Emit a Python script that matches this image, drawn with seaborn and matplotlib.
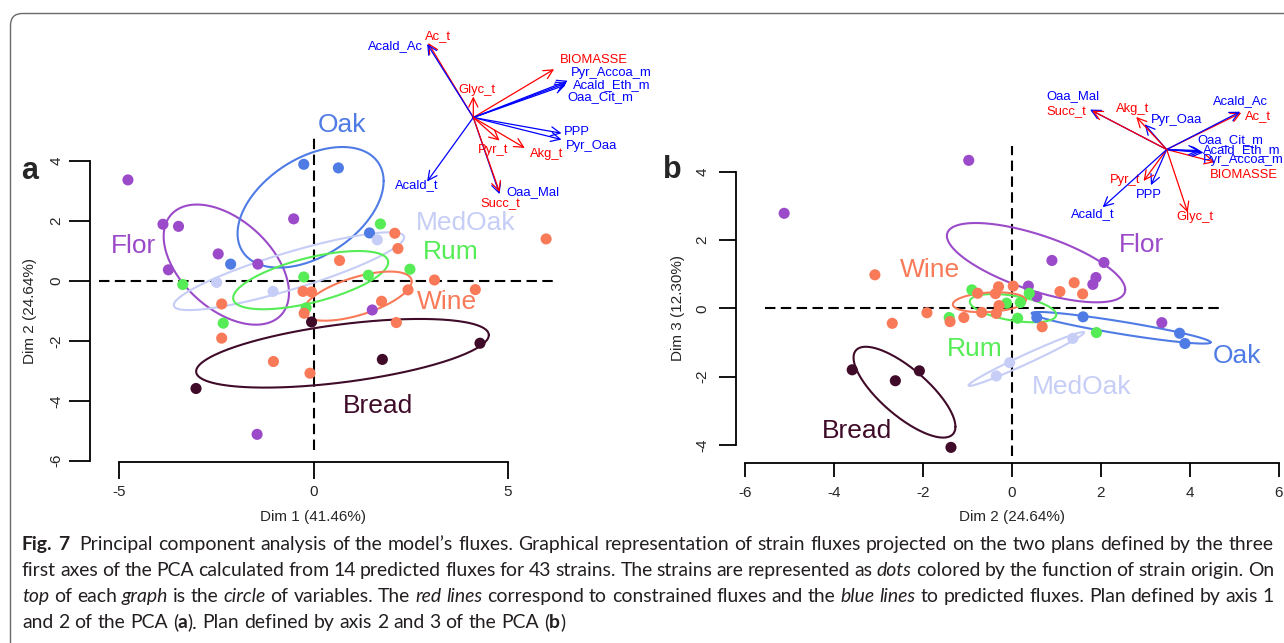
import numpy as np
import pandas as pd
import matplotlib
matplotlib.use("Agg")
import matplotlib.pyplot as plt
import seaborn as sns
from matplotlib.patches import FancyBboxPatch
from matplotlib.transforms import IdentityTransform
from matplotlib.font_manager import FontProperties

# ---------------- data ----------------
groups = (["Flor"] * 9 + ["Oak"] * 4 + ["MedOak"] * 3 + ["Rum"] * 7 +
          ["Wine"] * 16 + ["Bread"] * 4)
dim1 = [-4.77, -3.87, -3.47, -2.45, -1.43, -0.51, -3.73, -1.45, 1.51,
        -0.25, 0.64, 1.44, -2.13,
        1.64, -2.49, -1.04,
        1.72, 2.48, 1.41, -0.25, -3.36, -0.19, -2.32,
        2.09, 2.17, 0.67, 3.11, 4.16, 2.43, -0.27, -0.05, 1.75, -0.24, 2.13,
        -2.36, -2.36, -1.03, -0.09, 5.98,
        -0.05, 1.77, 4.28, -3.02]
dim2 = [3.37, 1.89, 1.82, 0.90, 0.56, 2.07, 0.37, -5.12, -0.97,
        3.89, 3.77, 1.60, 0.56,
        1.37, -0.05, -0.35,
        1.90, 0.39, 0.19, 0.13, -0.12, -0.90, -1.41,
        1.59, 1.08, 0.68, 0.03, -0.29, -0.30, -0.35, -0.37, -0.68, -1.08, -1.39,
        -0.77, -1.91, -2.69, -3.08, 1.40,
        -1.37, -2.62, -2.08, -3.59]
dim3 = [-0.42, 0.90, 0.70, 1.40, 0.34, 1.34, 0.65, 2.78, 4.33,
        -1.03, -0.73, -0.25, -0.27,
        -0.88, -1.59, -1.98,
        -0.71, 0.44, 0.17, -0.29, 0.15, 0.54, -0.27,
        0.42, 0.49, -0.54, 0.65, 0.08, 0.63, -0.15, 0.43, -0.12, -0.27, -0.39,
        0.44, -0.13, -0.44, 0.98, 0.75,
        -4.07, -2.12, -1.83, -1.80]

group_names = ["Flor", "Oak", "MedOak", "Rum", "Wine", "Bread"]

# variable loadings (correlations) on dims 1-3
var_names = ["Ac_t", "Acald_Ac", "BIOMASSE", "Pyr_Accoa_m", "Acald_Eth_m",
             "Oaa_Cit_m", "Glyc_t", "PPP", "Pyr_Oaa", "Pyr_t", "Akg_t",
             "Acald_t", "Oaa_Mal", "Succ_t"]
var_kind = ["constrained", "predicted", "constrained", "predicted", "predicted",
            "predicted", "constrained", "predicted", "predicted", "constrained",
            "constrained", "predicted", "predicted", "constrained"]
load1 = [-0.43, -0.44, 0.77, 0.90, 0.89, 0.88, 0.00, 0.84, 0.84, 0.25, 0.49,
         -0.44, 0.25, 0.25]
load2 = [0.71, 0.70, 0.46, 0.35, 0.33, 0.31, 0.20, -0.15, -0.21, -0.22, -0.29,
         -0.61, -0.73, -0.71]
load3 = [0.35, 0.36, -0.12, -0.03, -0.02, -0.01, -0.60, -0.34, 0.24, -0.30,
         0.31, -0.55, 0.38, 0.37]

x_label_a, y_label_a = "Dim 1 (41.46%)", "Dim 2 (24.64%)"
x_label_b, y_label_b = "Dim 2 (24.64%)", "Dim 3 (12.30%)"

caption_segments = [
    [("Fig. 7", "b"), ("  Principal component analysis of the model\u2019s fluxes. Graphical representation of strain fluxes projected on the two plans defined by the three", "r")],
    [("first axes of the PCA calculated from 14 predicted fluxes for 43 strains. The strains are represented as ", "r"), ("dots", "i"), (" colored by the function of strain origin. On", "r")],
    [("top", "i"), (" of each ", "r"), ("graph", "i"), (" is the ", "r"), ("circle", "i"), (" of variables. The ", "r"), ("red lines", "i"), (" correspond to constrained fluxes and the ", "r"), ("blue lines", "i"), (" to predicted fluxes. Plan defined by axis 1", "r")],
    [("and 2 of the PCA (", "r"), ("a", "b"), ("). Plan defined by axis 2 and 3 of the PCA (", "r"), ("b", "b"), (")", "r")],
]

# ---------------- styles / layout ----------------
palette = {"Flor": "#9b4bc9", "Oak": "#4f7be5", "MedOak": "#c6cdf6",
           "Rum": "#55ec55", "Wine": "#f97a58", "Bread": "#3f0b28"}
kind_color = {"constrained": "#ff0000", "predicted": "#0000ff"}

W, H = 1284, 643
sns.set_style("ticks")
plt.rcParams["font.family"] = ["Liberation Sans", "DejaVu Sans"]

fig = plt.figure(figsize=(W / 100, H / 100), dpi=100)

df = pd.DataFrame({"group": groups, "dim1": dim1, "dim2": dim2, "dim3": dim3})
vars_df = pd.DataFrame({"name": var_names, "kind": var_kind,
                        "d1": load1, "d2": load2, "d3": load3})


def px_axes(x0, sx, y0, sy, left, right, top, bottom):
    ax = fig.add_axes([left / W, 1 - bottom / H, (right - left) / W, (bottom - top) / H])
    ax.set_xlim((left - x0) / sx, (right - x0) / sx)
    ax.set_ylim((y0 - bottom) / sy, (y0 - top) / sy)
    ax.patch.set_alpha(0)
    return ax


def ellipse_curve(xs, ys, q=5.991):
    pts = np.column_stack([xs, ys])
    m = pts.mean(axis=0)
    C = np.cov(pts.T) / len(pts) * q
    L = np.linalg.cholesky(C)
    t = np.linspace(0, 2 * np.pi, 240)
    return m + (L @ np.vstack([np.cos(t), np.sin(t)])).T


def draw_panel(ax, xc, yc, xticks, yticks, xbounds, ybounds, hline, vline,
               label_pos, xlab, ylab, xlab_y, ylab_x, ylab_y, tl_y, tl_x, pad_x, pad_y):
    for g in group_names:
        sub = df[df.group == g]
        cur = ellipse_curve(sub[xc].values, sub[yc].values)
        ax.plot(cur[:, 0], cur[:, 1], color=palette[g], lw=1.5, zorder=2)
    sns.scatterplot(data=df, x=xc, y=yc, hue="group", palette=palette, s=64,
                    linewidth=0, legend=False, ax=ax, zorder=3)
    ax.plot(hline, [0, 0], color="black", lw=1.5, ls=(0, (5, 2.6)), zorder=1)
    ax.plot([0, 0], vline, color="black", lw=1.5, ls=(0, (5, 2.6)), zorder=1)
    for g, (lx, ly) in label_pos.items():
        ax.text(lx, ly, g, color=palette[g], fontsize=19, ha="center", va="center", zorder=4)
    ax.spines[["top", "right"]].set_visible(False)
    for s in ["left", "bottom"]:
        ax.spines[s].set_linewidth(1.3)
        ax.spines[s].set_color("black")
    ax.spines["left"].set_bounds(*ybounds)
    ax.spines["bottom"].set_bounds(*xbounds)
    ax.set_xticks(xticks)
    ax.set_yticks(yticks)
    ax.set_xticklabels([f"{v:g}" for v in xticks])
    ax.set_yticklabels([f"{v:g}" for v in yticks], rotation=90, va="center")
    ax.tick_params(axis="x", length=tl_x, width=1.3, labelsize=11, pad=pad_x, color="black")
    ax.tick_params(axis="y", length=tl_y, width=1.3, labelsize=11, pad=pad_y, color="black")
    ax.set_xlabel(xlab, fontsize=11, va="center")
    ax.set_ylabel(ylab, fontsize=11, va="center")
    ax.xaxis.set_label_coords(0, xlab_y, transform=ax.transData)
    ax.yaxis.set_label_coords(ylab_x, ylab_y, transform=ax.transData)
    ax.grid(False)


# panel a
ax_a = px_axes(313.5, 38.9, 280.9, 29.97, 90.5, 575, 105, 462.3)
draw_panel(ax_a, "dim1", "dim2", [-5, 0, 5], [-6, -4, -2, 0, 2, 4], (-5, 5), (-6, 4),
           [-5.51, 6.28], [-5.63, 4.87],
           {"Oak": (0.72, 5.21), "Flor": (-4.64, 1.17), "MedOak": (3.92, 1.93),
            "Rum": (3.53, 0.98), "Wine": (3.44, -0.72), "Bread": (1.65, -4.18)},
           x_label_a, y_label_a, -7.88, -7.29, -1.0, 15, 12, 4.5, 4.5)

# panel b
ax_b = px_axes(1011.9, 44.48, 308.3, 34.17, 735.9, 1284, 130, 462.7)
draw_panel(ax_b, "dim2", "dim3", [-6, -4, -2, 0, 2, 4, 6], [-4, -2, 0, 2, 4], (-6, 6), (-4, 4),
           [-5.54, 4.74], [-4.32, 4.74],
           {"Flor": (2.91, 1.84), "Wine": (-1.84, 1.12), "Rum": (-0.83, -1.19),
            "Oak": (5.07, -1.40), "MedOak": (1.57, -2.29), "Bread": (-3.49, -3.59)},
           x_label_b, y_label_b, -6.11, -7.51, 0.0, 12.5, 10, 6.5, 6.5)

fig.text(30 / W, 1 - 171 / H, "a", fontsize=22, fontweight="bold", ha="center", va="center")
fig.text(672 / W, 1 - 170 / H, "b", fontsize=22, fontweight="bold", ha="center", va="center")

# variable arrows (circle of variables insets)
R = 105.0
lab_a = {"Ac_t": (-35, -81.7), "Acald_Ac": (-78.3, -71.7), "BIOMASSE": (120.7, -57.3),
         "Pyr_Accoa_m": (138.3, -44.3), "Acald_Eth_m": (138.3, -32.3), "Oaa_Cit_m": (126.7, -20.7),
         "Glyc_t": (3.3, -27.3), "PPP": (104, 14.3), "Pyr_Oaa": (118.3, 29), "Pyr_t": (19.3, 32.7),
         "Akg_t": (73.3, 36), "Acald_t": (-56.7, 67.7), "Oaa_Mal": (60, 75), "Succ_t": (26.7, 86)}
lab_b = {"Oaa_Mal": (-93.3, -53), "Succ_t": (-100, -38.3), "Akg_t": (-34, -40.7),
         "Pyr_Oaa": (10, -29.7), "Acald_Ac": (73.3, -48), "Ac_t": (91.7, -33),
         "Oaa_Cit_m": (63.3, -9.7), "Acald_Eth_m": (75, 1), "Pyr_Accoa_m": (76.7, 11),
         "BIOMASSE": (76.7, 25.3), "Pyr_t": (-41.7, 31), "PPP": (-18.3, 45.3),
         "Acald_t": (-74, 64.3), "Glyc_t": (28.3, 67.7)}


def arrow_inset(ox, oy, cx, cy, labels):
    half = 160
    ax = fig.add_axes([(ox - half) / W, 1 - (oy + half) / H, 2 * half / W, 2 * half / H])
    ax.set_xlim(-half / R, half / R)
    ax.set_ylim(-half / R, half / R)
    ax.set_axis_off()
    for _, r in vars_df.iterrows():
        c = kind_color[r["kind"]]
        ax.annotate("", xy=(r[cx], r[cy]), xytext=(0, 0), annotation_clip=False,
                    arrowprops=dict(arrowstyle="->,head_length=0.6,head_width=0.3",
                                    color=c, lw=0.9, shrinkA=0, shrinkB=0,
                                    mutation_scale=11))
        lx, ly = labels[r["name"]]
        ax.text(lx / R, -ly / R, r["name"], color=c, fontsize=9.4,
                ha="center", va="center", clip_on=False)


arrow_inset(473.3, 117.5, "d1", "d2", lab_a)
arrow_inset(1166.7, 149.5, "d2", "d3", lab_b)

# frame
frame = FancyBboxPatch((10.5, -40), 1400, 643 + 40 - 13.5,
                       boxstyle="round,pad=0,rounding_size=12",
                       transform=IdentityTransform(), fill=False,
                       ec="#6a6a6a", lw=1.0)
fig.add_artist(frame)

# caption with mixed styles, justified
renderer = fig.canvas.get_renderer()
cap_family = "Lato"


def fprops(style, size):
    return FontProperties(family=cap_family, size=size,
                          weight="bold" if style == "b" else "normal",
                          style="italic" if style == "i" else "normal")


def wid(s, style, size):
    if s == "":
        return 0.0
    w, _, _ = renderer.get_text_width_height_descent(s, fprops(style, size), ismath=False)
    return w


def pieces_of(line):
    pcs = []  # (text, style, space_before)
    first = True
    for text, style in line:
        parts = text.split(" ")
        for k, p in enumerate(parts):
            sb = (k > 0)
            if first:
                sb = False
                first = False
            pcs.append((p, style, sb))
    return pcs


def natural_width(line, size):
    pcs = pieces_of(line)
    sp = wid("l l", "r", size) - wid("ll", "r", size)
    return sum(wid(p, s, size) for p, s, _ in pcs) + sp * sum(1 for *_, b in pcs if b)


x_start, x_end = 22.0, 1274.0
base = 10.0
size = base * (x_end - x_start) / natural_width(caption_segments[0], base)
baselines = [550, 576, 602, 628]
for li, line in enumerate(caption_segments):
    pcs = pieces_of(line)
    nsp = sum(1 for *_, b in pcs if b)
    sp = wid("l l", "r", size) - wid("ll", "r", size)
    if li < 3:
        total = sum(wid(p, s, size) for p, s, _ in pcs)
        sp = (x_end - x_start - total) / nsp
    x = x_start
    for p, s, b in pcs:
        if b:
            x += sp
        if p:
            fig.text(x / W, 1 - baselines[li] / H, p, fontproperties=fprops(s, size),
                     color="#231f20", ha="left", va="baseline")
            x += wid(p, s, size)

fig.savefig("out.png", dpi=100)
